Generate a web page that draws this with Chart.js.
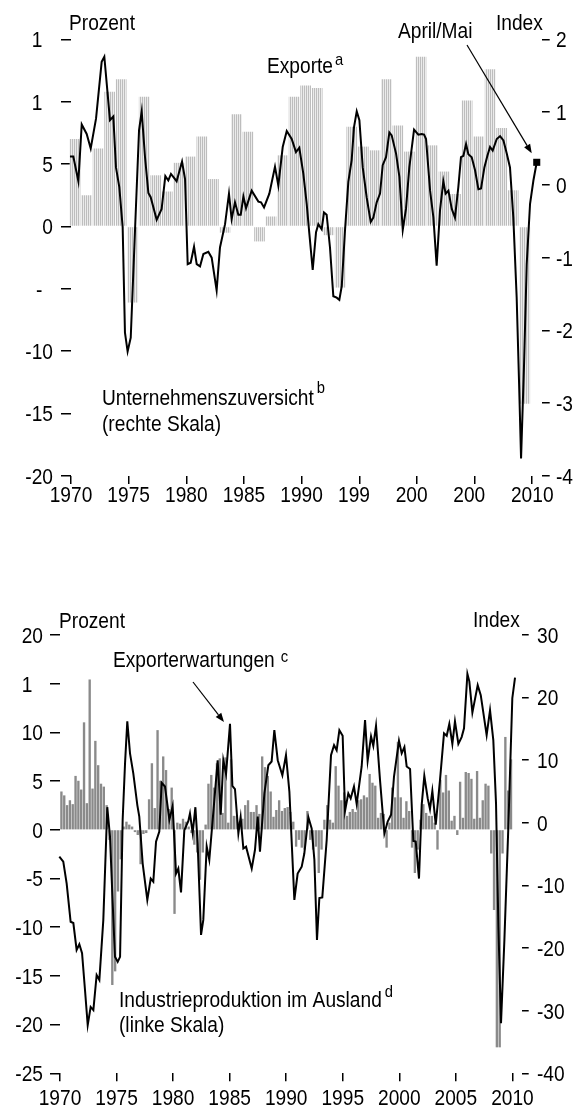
<!DOCTYPE html>
<html><head><meta charset="utf-8">
<script src="https://cdn.jsdelivr.net/npm/chart.js@4/dist/chart.umd.min.js"></script>
<style>
html,body{margin:0;padding:0;background:#fff;}
#wrap{position:relative;width:579px;height:1108px;overflow:hidden;background:#fff;}
#c1{position:absolute;left:0;top:0;}
#c2{position:absolute;left:0;top:560px;}
</style></head><body>
<div id="wrap"><canvas id="c1" width="579" height="520"></canvas><canvas id="c2" width="579" height="548"></canvas></div>
<script>
// ---------- TOP CHART DATA ----------
const exportYears = [1970,1971,1972,1973,1974,1975,1976,1977,1978,1979,1980,1981,1982,1983,1984,1985,1986,1987,1988,1989,1990,1991,1992,1993,1994,1995,1996,1997,1998,1999,2000,2001,2002,2003,2004,2005,2006,2007,2008,2009];
const exportValues = [7.0,2.5,6.25,10.8,11.8,-6.1,10.4,4.1,2.8,5.1,5.6,7.2,3.8,-0.5,9.0,7.6,-1.2,0.8,5.7,10.4,11.3,11.1,-0.7,-4.9,8.0,6.4,6.1,11.8,8.1,6.0,13.6,6.5,4.4,2.6,10.1,7.2,12.6,7.9,2.9,-14.2];
const confYears = [1969.91,1970.20,1970.64,1970.93,1971.36,1971.71,1972.17,1972.66,1972.89,1973.38,1973.67,1973.90,1974.19,1974.48,1974.68,1974.91,1975.18,1975.55,1975.90,1976.13,1976.42,1976.71,1976.91,1977.43,1977.86,1978.18,1978.44,1978.67,1979.16,1979.63,1979.89,1980.12,1980.38,1980.67,1980.90,1981.19,1981.48,1981.91,1982.20,1982.63,1982.92,1983.36,1983.70,1983.93,1984.22,1984.51,1984.72,1984.95,1985.18,1985.67,1986.25,1986.48,1986.74,1987.20,1987.69,1987.98,1988.36,1988.71,1989.14,1989.51,1989.80,1990.15,1990.44,1990.67,1990.96,1991.25,1991.45,1991.74,1991.94,1992.17,1992.46,1992.75,1993.04,1993.27,1993.48,1993.76,1994.05,1994.34,1994.54,1994.78,1995.01,1995.30,1995.64,1995.99,1996.22,1996.51,1996.80,1997.03,1997.32,1997.61,1997.81,1998.19,1998.48,1998.77,1999.05,1999.34,1999.75,2000.12,2000.41,2000.62,2000.79,2001.14,2001.43,2001.71,2002.00,2002.29,2002.49,2002.73,2003.02,2003.30,2003.59,2003.82,2004.03,2004.26,2004.46,2004.75,2005.04,2005.33,2005.56,2005.85,2006.11,2006.34,2006.57,2006.92,2007.21,2007.50,2007.79,2008.07,2008.36,2008.65,2008.86,2009.03,2009.29,2009.52,2009.81,2010.10,2010.39];
const confValues = [0.39,0.39,0.05,0.83,0.70,0.50,0.91,1.69,1.76,0.89,0.94,0.24,-0.03,-0.58,-2.03,-2.29,-2.10,-0.63,0.75,1.01,0.38,-0.11,-0.17,-0.48,-0.33,0.12,0.06,0.15,0.05,0.32,0.08,-1.09,-1.07,-0.85,-1.09,-1.12,-0.95,-0.92,-1.00,-1.45,-0.86,-0.54,-0.12,-0.47,-0.24,-0.41,-0.41,-0.16,-0.32,-0.08,-0.23,-0.24,-0.31,-0.12,0.25,-0.01,0.52,0.74,0.63,0.45,0.51,0.15,-0.26,-0.67,-1.17,-0.65,-0.54,-0.61,-0.38,-0.41,-0.86,-1.53,-1.55,-1.58,-1.39,-0.63,0.04,0.34,0.79,1.01,0.89,0.24,-0.17,-0.51,-0.45,-0.24,-0.12,0.27,0.38,0.72,0.68,0.43,0.11,-0.62,-0.33,0.24,0.76,0.69,0.70,0.69,0.63,-0.08,-0.45,-1.11,-0.35,0.05,-0.12,-0.08,-0.33,-0.45,-0.03,0.38,0.40,0.56,0.42,0.38,0.20,-0.06,-0.05,0.24,0.40,0.52,0.47,0.63,0.67,0.61,0.43,0.24,-0.45,-1.55,-2.74,-3.76,-2.46,-1.09,-0.26,0.06,0.31];
const topXTicks = [1970,1975,1980,1985,1990,1995,2000,2005,2010];
const topXLabels = ['1970','1975','1980','1985','1990','199  ','200  ','200  ','2010'];
const topLeftTicks = [15,10,5,0,-5,-10,-15,-20];
const topLeftLabels = ['1  ','1  ','5','0','-  ','-10','-15','-20'];
const topRightTicks = [2,1,0,-1,-2,-3,-4];
const topRightLabels = ['2','1','0','-1','-2','-3','-4'];

// ---------- BOTTOM CHART DATA ----------
const industryStartYear = 1970; // quarterly values, from Q1 1970
const industryValues = [3.9,3.5,2.5,3.0,2.6,5.5,5.0,4.1,11.0,2.7,15.4,4.2,9.1,6.6,4.7,4.4,2.5,-1.0,-15.9,-14.5,-6.3,-3.0,0.3,0.8,0.5,0.3,-0.2,-0.5,-3.5,-0.4,-0.3,3.1,6.8,2.2,10.2,5.0,7.5,6.1,2.1,4.3,-8.6,0.7,0.6,1.1,0.8,0.3,-0.3,-1.5,-2.3,-5.1,-2.3,0.5,4.7,5.6,4.3,6.8,7.3,1.7,7.4,0.7,7.2,1.4,1.4,0.8,1.1,2.5,3.0,1.8,1.8,2.5,1.6,7.5,6.4,5.5,3.9,1.3,2.0,3.0,1.9,2.2,2.3,1.8,0.8,-1.7,-1.0,-1.8,-2.0,1.9,-1.0,-2.0,-1.7,-4.4,-2.0,1.0,2.5,1.0,0.7,6.5,4.5,3.0,3.8,1.4,1.8,2.1,1.8,3.0,3.1,3.5,3.3,5.7,4.8,4.5,1.2,1.7,1.6,-1.8,0.7,4.3,3.3,9.0,3.3,1.2,2.9,1.9,-1.8,-4.4,-2.0,1.0,2.6,1.7,1.4,1.4,0.7,-2.0,5.1,3.8,5.6,4.0,0.9,1.4,-0.5,4.9,1.2,5.9,5.8,5.2,1.1,6.0,1.2,3.0,4.7,4.5,-2.4,-8.2,-22.3,-22.3,-2.4,9.5,4.0,7.2];
const expectYears = [1969.94,1970.29,1970.59,1970.94,1971.18,1971.47,1971.71,1971.95,1972.21,1972.45,1972.71,1972.95,1973.24,1973.48,1973.83,1974.18,1974.42,1974.72,1974.86,1975.10,1975.31,1975.54,1975.75,1975.95,1976.19,1976.48,1976.84,1977.01,1977.31,1977.72,1978.02,1978.25,1978.49,1978.78,1978.99,1979.28,1979.67,1979.96,1980.26,1980.46,1980.70,1980.99,1981.35,1981.49,1981.73,1981.97,1982.17,1982.47,1982.67,1982.97,1983.20,1983.56,1983.94,1984.21,1984.44,1984.68,1985.03,1985.24,1985.47,1985.77,1985.97,1986.21,1986.45,1986.95,1987.24,1987.48,1987.68,1988.07,1988.42,1988.71,1988.95,1989.25,1989.66,1989.98,1990.28,1990.72,1991.01,1991.37,1991.60,1991.96,1992.25,1992.49,1992.72,1992.93,1993.19,1993.58,1993.96,1994.23,1994.46,1994.70,1994.99,1995.20,1995.49,1995.70,1995.99,1996.23,1996.67,1996.97,1997.20,1997.50,1997.70,1997.94,1998.29,1998.68,1998.97,1999.27,1999.53,1999.97,2000.21,2000.45,2000.65,2000.95,2001.24,2001.45,2001.74,2001.98,2002.21,2002.51,2002.71,2002.92,2003.22,2003.60,2003.95,2004.19,2004.42,2004.69,2004.92,2005.22,2005.51,2005.72,2006.02,2006.19,2006.46,2006.93,2007.20,2007.72,2008.02,2008.31,2008.55,2008.76,2008.99,2009.29,2009.64,2009.99,2010.23];
const expectValues = [-5.4,-6.2,-9.7,-15.8,-16.0,-20.3,-19.4,-20.8,-26.7,-32.3,-29.4,-29.9,-24.3,-25.1,-15.5,2.5,-2.2,-15.5,-21.4,-22.2,-21.4,0.5,9.5,16.2,11.1,7.9,2.8,1.0,-6.5,-12.3,-8.9,-9.4,-3.0,-1.4,6.4,5.8,0.5,2.7,-8.1,-7.3,-11.1,-1.2,0.3,1.5,-1.6,2.5,-3.3,-17.9,-15.5,-3.8,-5.9,1.8,10.0,1.3,10.0,7.8,15.8,5.9,5.4,-1.7,0.9,-4.1,-3.8,-7.3,-4.3,1.0,-4.6,4.7,9.2,9.8,14.8,10.0,7.6,10.8,5.0,-12.3,-8.1,-7.0,-4.9,0.9,-0.9,-5.9,-18.7,-12.0,-11.9,-2.7,10.8,12.4,11.6,14.8,13.9,1.9,4.7,3.9,5.8,3.0,9.0,16.4,9.9,13.8,12.3,15.5,6.9,-1.7,0.2,1.3,7.4,13.1,11.1,12.1,9.0,8.6,-2.9,-3.0,-8.9,2.9,7.5,3.9,2.2,5.1,-0.3,6.9,14.3,13.9,15.8,12.6,16.2,12.6,13.7,15.1,23.8,22.6,17.6,22.0,20.4,14.0,18.0,13.2,3.1,-16.6,-32.0,-18.7,-0.6,19.9,23.2];
const botXTicks = [1970,1975,1980,1985,1990,1995,2000,2005,2010];
const botXLabels = ['1970','1975','1980','1985','1990','1995','2000','2005','2010'];
const botLeftTicks = [20,15,10,5,0,-5,-10,-15,-20,-25];
const botLeftLabels = ['20','1  ','10','5','0','-5','-10','-15','-20','-25'];
const botRightTicks = [30,20,10,0,-10,-20,-30,-40];
const botRightLabels = ['30','20','10','0','-10','-20','-30','-40'];

// ---------- STYLE ----------
const FONT = "'Liberation Sans',Arial,'Helvetica',sans-serif";
const FS = 22;      // text size
const SX = 0.87;    // horizontal squeeze (narrow face look)
const SUP = 17;     // superscript size
Chart.defaults.font.family = FONT;
Chart.defaults.font.size = FS;
Chart.defaults.color = '#000';

function hatchPattern(ctx){
  const c = document.createElement('canvas'); c.width = 2; c.height = 1;
  const g = c.getContext('2d');
  g.fillStyle = '#bdbdbd'; g.fillRect(0,0,1,1);
  g.fillStyle = '#ebebeb'; g.fillRect(1,0,1,1);
  return ctx.createPattern(c,'repeat');
}

function yScale(pos,min,max,tk,width,tickLen){
  return {position:pos,min:min,max:max,
    afterBuildTicks:s=>{s.ticks=tk.map(v=>({value:v}));},
    ticks:{autoSkip:false,padding:0,color:'rgba(0,0,0,0)',font:{size:10}},
    grid:{drawOnChartArea:false,drawTicks:true,tickLength:tickLen,color:'#000',lineWidth:1.5},
    border:{display:false},
    afterFit:s=>{s.width=width;}};
}
function xScale(tk,height){
  return {type:'linear',min:1970,max:2010.82,offset:false,
    afterBuildTicks:s=>{s.ticks=tk.map(v=>({value:v}));},
    ticks:{autoSkip:false,maxRotation:0,padding:0,color:'rgba(0,0,0,0)',font:{size:10}},
    grid:{offset:false,drawOnChartArea:false,drawTicks:true,tickLength:8,color:'#000',lineWidth:1.5},
    border:{display:false},
    afterFit:s=>{s.height=height;}};
}
function arrow(ctx,x1,y1,x2,y2){
  ctx.save();
  ctx.strokeStyle='#000'; ctx.fillStyle='#000'; ctx.lineWidth=1.2;
  const a=Math.atan2(y2-y1,x2-x1), L=9, W=3.5;
  const bx=x2-L*Math.cos(a), by=y2-L*Math.sin(a);
  ctx.beginPath(); ctx.moveTo(x1,y1); ctx.lineTo(bx,by); ctx.stroke();
  ctx.beginPath(); ctx.moveTo(x2,y2);
  ctx.lineTo(bx+W*Math.sin(a),by-W*Math.cos(a));
  ctx.lineTo(bx-W*Math.sin(a),by+W*Math.cos(a));
  ctx.closePath(); ctx.fill();
  ctx.restore();
}
// squeezed text; returns right edge x
function txt(ctx,s,x,y,size,align){
  ctx.save();
  ctx.font=(size||FS)+'px '+FONT;
  ctx.textAlign=align||'left'; ctx.textBaseline='alphabetic'; ctx.fillStyle='#000';
  ctx.translate(x,y); ctx.scale(SX,1); ctx.fillText(s,0,0);
  const w=ctx.measureText(s).width*SX;
  ctx.restore();
  return x+w;
}
function drawAxisLabels(chart,cfg){
  const ctx=chart.ctx, sx=chart.scales.x, yl=chart.scales.yL, yr=chart.scales.yR;
  const dy=0.358*FS;
  cfg.xTicks.forEach((v,i)=>txt(ctx,cfg.xLabels[i],sx.getPixelForValue(v),cfg.xBase,FS,'center'));
  cfg.lTicks.forEach((v,i)=>txt(ctx,cfg.lLabels[i],cfg.lRight,yl.getPixelForValue(v)+dy,FS,'right'));
  cfg.rTicks.forEach((v,i)=>txt(ctx,cfg.rLabels[i],cfg.rLeft,yr.getPixelForValue(v)+dy,FS,'left'));
}

// ---------- TOP CHART ----------
const c1 = document.getElementById('c1');
const lastConf = confYears.length-1;
const topAnnot = {id:'topAnnot',afterDraw(chart){
  const ctx=chart.ctx;
  drawAxisLabels(chart,{xTicks:topXTicks,xLabels:topXLabels,xBase:502,
    lTicks:topLeftTicks,lLabels:topLeftLabels,lRight:53,
    rTicks:topRightTicks,rLabels:topRightLabels,rLeft:556});
  txt(ctx,'Prozent',69,30);
  txt(ctx,'Index',496,30);
  txt(ctx,'April/Mai',398,38);
  let e=txt(ctx,'Exporte',267,73); txt(ctx,'a',e+2,65,SUP);
  e=txt(ctx,'Unternehmenszuversicht',102,405); txt(ctx,'b',e+3,393,SUP);
  txt(ctx,'(rechte Skala)',102,431);
  const px=chart.scales.x.getPixelForValue(confYears[lastConf]);
  const py=chart.scales.yR.getPixelForValue(confValues[lastConf]);
  arrow(ctx,467,45,px-5,py-9);
}};
new Chart(c1,{
  type:'bar',
  data:{datasets:[
    {type:'line',label:'Unternehmenszuversicht',data:confYears.map((x,i)=>({x:x,y:confValues[i]})),
     xAxisID:'x',yAxisID:'yR',borderColor:'#000',borderWidth:2,tension:0,clip:false,order:0,
     pointStyle:'rect',pointBackgroundColor:'#000',pointBorderWidth:0,
     pointRadius:c=>c.dataIndex===lastConf?5:0},
    {type:'bar',label:'Exporte',data:exportYears.map((x,i)=>({x:x+0.35,y:exportValues[i]})),
     xAxisID:'x',yAxisID:'yL',backgroundColor:hatchPattern(c1.getContext('2d')),borderWidth:0,
     barPercentage:0.93,categoryPercentage:1,clip:false,order:1}
  ]},
  options:{responsive:false,animation:false,events:[],
    layout:{padding:{top:39.3,bottom:0,left:0,right:0}},
    plugins:{legend:{display:false},tooltip:{enabled:false}},
    scales:{
      x:xScale(topXTicks,44),
      yL:yScale('left',-20,15,topLeftTicks,71,10),
      yR:yScale('right',-4,2,topRightTicks,37.3,8)
    }},
  plugins:[topAnnot]
});

// ---------- BOTTOM CHART ----------
const c2 = document.getElementById('c2');
const peakIdx = expectYears.indexOf(1985.03);
const botAnnot = {id:'botAnnot',afterDraw(chart){
  const ctx=chart.ctx;
  drawAxisLabels(chart,{xTicks:botXTicks,xLabels:botXLabels,xBase:545,
    lTicks:botLeftTicks,lLabels:botLeftLabels,lRight:43,
    rTicks:botRightTicks,rLabels:botRightLabels,rLeft:537});
  txt(ctx,'Prozent',59,68);
  txt(ctx,'Index',473,67);
  let e=txt(ctx,'Exporterwartungen',113,107); txt(ctx,'c',e+6,102,SUP);
  e=txt(ctx,'Industrieproduktion im Ausland',119,447); txt(ctx,'d',e+3,437,SUP);
  txt(ctx,'(linke Skala)',119,472);
  const px=chart.scales.x.getPixelForValue(expectYears[peakIdx]);
  const py=chart.scales.yR.getPixelForValue(expectValues[peakIdx]);
  arrow(ctx,193,122,px-6,py-2);
}};
new Chart(c2,{
  type:'bar',
  data:{datasets:[
    {type:'line',label:'Exporterwartungen',data:expectYears.map((x,i)=>({x:x,y:expectValues[i]})),
     xAxisID:'x',yAxisID:'yR',borderColor:'#000',borderWidth:2,tension:0,clip:false,order:0,pointRadius:0},
    {type:'bar',label:'Industrieproduktion im Ausland',
     data:industryValues.map((v,i)=>({x:industryStartYear+i*0.25+0.125,y:v})),
     xAxisID:'x',yAxisID:'yL',backgroundColor:'#8a8a8a',borderWidth:0,barThickness:1.7,clip:false,order:1}
  ]},
  options:{responsive:false,animation:false,events:[],
    layout:{padding:{top:75,bottom:0,left:0,right:0}},
    plugins:{legend:{display:false},tooltip:{enabled:false}},
    scales:{
      x:xScale(botXTicks,34.7),
      yL:yScale('left',-25,20,botLeftTicks,60,10),
      yR:yScale('right',-40,30,botRightTicks,57.3,7)
    }},
  plugins:[botAnnot]
});
</script></body></html>
